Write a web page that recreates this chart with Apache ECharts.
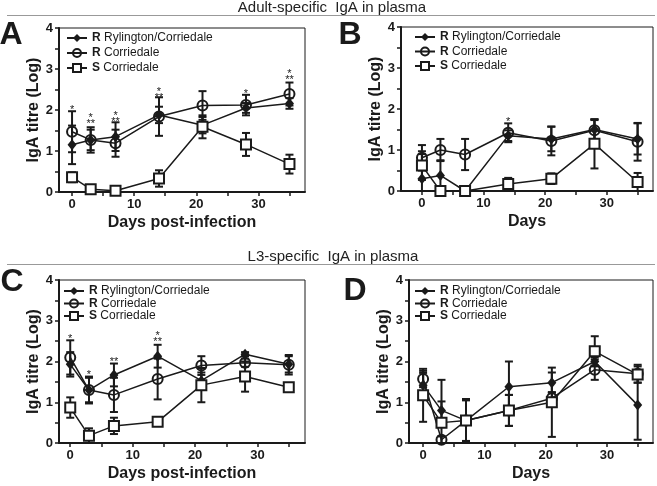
<!DOCTYPE html>
<html><head><meta charset="utf-8">
<script src="https://cdn.jsdelivr.net/npm/echarts@6/dist/echarts.min.js"></script>
<style>html,body{margin:0;padding:0;background:#fff}#c{width:657px;height:486px}</style>
</head><body><div id="c"></div>
<script>
const days = [0, 3, 7, 14, 21, 28, 35];
const seriesNames = ['R Rylington/Corriedale', 'R Corriedale', 'S Corriedale'];
const xTicks = [0, 5, 10, 15, 20, 25, 30, 35];
const xLabels = [0, 10, 20, 30];

// Panel A: Adult-specific, Days post-infection
const A_rr = [1.15, 1.27, 1.35, 1.88, 1.63, 2.05, 2.16];
const A_rr_err = [0.47, 0.25, 0.35, 0.20, 0.20, 0.12, 0.13];
const A_rc = [1.47, 1.27, 1.19, 1.84, 2.11, 2.12, 2.39];
const A_rc_err = [0.50, 0.31, 0.33, 0.47, 0.35, 0.25, 0.28];
const A_sc = [0.36, 0.07, 0.03, 0.33, 1.59, 1.16, 0.68];
const A_sc_err = [0.12, 0.03, 0.02, 0.20, 0.28, 0.28, 0.23];
const A_sig_x = [0, 3, 3, 7, 7, 14, 14, 28, 35, 35];
const A_sig_y = [2.07, 1.86, 1.71, 1.92, 1.78, 2.50, 2.36, 2.46, 2.93, 2.80];
const A_sig_t = ['*', '*', '**', '*', '**', '*', '**', '*', '*', '**'];

// Panel B: Adult-specific, Days
const B_rr = [0.30, 0.38, 0.00, 1.35, 1.27, 1.50, 1.27];
const B_rr_err = [0.60, 0.37, 0.00, 0.13, 0.30, 0.25, 0.38];
const B_rc = [0.81, 1.00, 0.89, 1.42, 1.22, 1.48, 1.20];
const B_rc_err = [0.31, 0.27, 0.38, 0.23, 0.35, 0.25, 0.46];
const B_sc = [0.62, 0.00, 0.00, 0.17, 0.30, 1.15, 0.22];
const B_sc_err = [0.35, 0.00, 0.00, 0.15, 0.13, 0.60, 0.22];
const B_sig_x = [14];
const B_sig_y = [1.74];
const B_sig_t = ['*'];

// Panel C: L3-specific, Days post-infection
const C_rr = [1.93, 1.30, 1.67, 2.13, 1.53, 2.18, 1.93];
const C_rr_err = [0.30, 0.30, 0.28, 0.28, 0.20, 0.05, 0.20];
const C_rc = [2.10, 1.30, 1.18, 1.57, 1.90, 1.97, 1.92];
const C_rc_err = [0.42, 0.33, 0.42, 0.50, 0.23, 0.10, 0.24];
const C_sc = [0.87, 0.18, 0.42, 0.52, 1.42, 1.63, 1.37];
const C_sc_err = [0.25, 0.18, 0.20, 0.08, 0.42, 0.37, 0.07];
const C_sig_x = [0, 3, 7, 14, 14];
const C_sig_y = [2.61, 1.73, 2.04, 2.68, 2.53];
const C_sig_t = ['*', '*', '**', '*', '**'];

// Panel D: L3-specific, Days
const D_rr = [1.42, 0.80, 0.55, 1.38, 1.48, 2.00, 0.93];
const D_rr_err = [0.30, 0.22, 0.50, 0.62, 0.25, 0.10, 0.85];
const D_rc = [1.57, 0.08, 0.55, 0.80, 1.10, 1.80, 1.70];
const D_rc_err = [0.20, 0.08, 0.50, 0.38, 0.15, 0.25, 0.22];
const D_sc = [1.17, 0.50, 0.55, 0.80, 1.00, 2.25, 1.68];
const D_sc_err = [0.65, 1.05, 0.53, 0.38, 0.85, 0.37, 0.20];

const FONT = "'Liberation Sans', Arial, sans-serif";
const INK = '#1a1a1a';

const panels = [
  {letter: 'A', xname: 'Days post-infection', grid: {left: 59, top: 28, width: 246, height: 164}, xmin: -2.1, xmax: 37.5,
   data: [[A_rr, A_rr_err], [A_rc, A_rc_err], [A_sc, A_sc_err]], sig: [A_sig_x, A_sig_y, A_sig_t],
   legend: {left: 66, top: 32, itemGap: 3}, letterPos: [11, 35]},
  {letter: 'B', xname: 'Days', grid: {left: 401, top: 27, width: 252, height: 164}, xmin: -3.4, xmax: 37.5,
   data: [[B_rr, B_rr_err], [B_rc, B_rc_err], [B_sc, B_sc_err]], sig: [B_sig_x, B_sig_y, B_sig_t],
   legend: {left: 414, top: 31, itemGap: 2.5}, letterPos: [350, 35]},
  {letter: 'C', xname: 'Days post-infection', grid: {left: 59, top: 280, width: 246, height: 163}, xmin: -1.8, xmax: 37.6,
   data: [[C_rr, C_rr_err], [C_rc, C_rc_err], [C_sc, C_sc_err]], sig: [C_sig_x, C_sig_y, C_sig_t],
   legend: {left: 63, top: 285, itemGap: 0.5}, letterPos: [12, 282]},
  {letter: 'D', xname: 'Days', grid: {left: 409, top: 280, width: 244, height: 163}, xmin: -2.3, xmax: 37.5,
   data: [[D_rr, D_rr_err], [D_rc, D_rc_err], [D_sc, D_sc_err]], sig: null,
   legend: {left: 414, top: 285, itemGap: 0.5}, letterPos: [355, 291]}
];

const styles = [
  {symbol: 'diamond', symbolSize: [9, 11], itemStyle: {color: INK, borderColor: INK, borderWidth: 0}},
  {symbol: 'circle', symbolSize: 10, itemStyle: {color: 'rgba(0,0,0,0)', borderColor: INK, borderWidth: 2}},
  {symbol: 'rect', symbolSize: 10, itemStyle: {color: '#fff', borderColor: INK, borderWidth: 2}}
];

function errRender(params, api) {
  const x = api.value(0), y = api.value(1), e = api.value(2);
  if (!(e > 0)) return null;
  const lo = Math.max(0, y - e), hi = y + e;
  const pTop = api.coord([x, hi]);
  const pBot = api.coord([x, lo]);
  const cw = 4;
  const children = [
    {type: 'line', shape: {x1: pTop[0], y1: pTop[1], x2: pBot[0], y2: pBot[1]}, style: {stroke: INK, lineWidth: 2}},
    {type: 'line', shape: {x1: pTop[0] - cw, y1: pTop[1], x2: pTop[0] + cw, y2: pTop[1]}, style: {stroke: INK, lineWidth: 2}}
  ];
  if (y - e > 0) children.push({type: 'line', shape: {x1: pBot[0] - cw, y1: pBot[1], x2: pBot[0] + cw, y2: pBot[1]}, style: {stroke: INK, lineWidth: 2}});
  return {type: 'group', children};
}

const sigTexts = {};
function sigRender(params, api) {
  const p = api.coord([api.value(0), api.value(1)]);
  const txt = sigTexts[params.seriesIndex][params.dataIndexInside];
  return {type: 'text', style: {x: p[0], y: p[1] + 2.5, text: txt, fontSize: 11, fontFamily: FONT, fill: INK, align: 'center', verticalAlign: 'middle'}};
}

const grids = [], xAxes = [], yAxes = [], series = [], legends = [], graphics = [];

panels.forEach((p, pi) => {
  grids.push(Object.assign({show: true, borderColor: INK, borderWidth: 1, backgroundColor: 'transparent', containLabel: false}, p.grid));
  xAxes.push({
    type: 'value', gridIndex: pi, min: p.xmin, max: p.xmax,
    name: p.xname, nameLocation: 'middle', nameGap: 23,
    nameTextStyle: {fontFamily: FONT, fontWeight: 'bold', fontSize: 16, color: INK, verticalAlign: 'top'},
    axisLine: {show: true, onZero: false, lineStyle: {color: INK, width: 2}},
    axisTick: {show: true, customValues: xTicks, length: 4, lineStyle: {color: INK, width: 1.5}},
    axisLabel: {customValues: xLabels, fontFamily: FONT, fontWeight: 'bold', fontSize: 13, color: INK, margin: 6},
    splitLine: {show: false}
  });
  yAxes.push({
    type: 'value', gridIndex: pi, min: 0, max: 4, interval: 0.5,
    name: 'IgA titre (Log)', nameLocation: 'middle', nameGap: 17,
    nameTextStyle: {fontFamily: FONT, fontWeight: 'bold', fontSize: 16, color: INK},
    axisLine: {show: true, onZero: false, lineStyle: {color: INK, width: 2}},
    axisTick: {show: true, length: 4, lineStyle: {color: INK, width: 1.5}},
    axisLabel: {fontFamily: FONT, fontWeight: 'bold', fontSize: 13, color: INK, margin: 6,
      formatter: v => (Math.abs(v - Math.round(v)) < 1e-9 ? String(Math.round(v)) : '')},
    splitLine: {show: false}
  });
  p.data.forEach((d, si) => {
    const [vals, errs] = d;
    series.push({
      type: 'custom', name: 'err' + pi + si, xAxisIndex: pi, yAxisIndex: pi, z: 2, silent: true,
      renderItem: errRender, encode: {x: 0, y: 1},
      data: days.map((dd, k) => [dd, vals[k], errs[k]])
    });
  });
  p.data.forEach((d, si) => {
    const [vals] = d;
    series.push(Object.assign({
      type: 'line', name: seriesNames[si], xAxisIndex: pi, yAxisIndex: pi, z: 3 + si, animation: false,
      lineStyle: {color: INK, width: 1.5}, showAllSymbol: true,
      data: days.map((dd, k) => [dd, vals[k]])
    }, styles[si]));
  });
  if (p.sig) {
    const si = series.length;
    sigTexts[si] = p.sig[2];
    series.push({
      type: 'custom', name: 'sig' + pi, xAxisIndex: pi, yAxisIndex: pi, z: 6, silent: true,
      renderItem: sigRender, encode: {x: 0, y: 1},
      data: p.sig[0].map((x, k) => [x, p.sig[1][k]])
    });
  }
  legends.push({
    data: seriesNames, orient: 'vertical', left: p.legend.left, top: p.legend.top, itemGap: p.legend.itemGap,
    itemWidth: 20, itemHeight: 10, padding: 0, selectedMode: false,
    formatter: n => '{b|' + n.charAt(0) + '} ' + n.slice(2),
    textStyle: {fontFamily: FONT, fontSize: 12, color: INK, rich: {b: {fontFamily: FONT, fontSize: 12, fontWeight: 'bold', color: INK}}}
  });
  graphics.push({type: 'text', x: p.letterPos[0], y: p.letterPos[1],
    style: {text: p.letter, fontFamily: FONT, fontWeight: 'bold', fontSize: 32, fill: INK, align: 'center', verticalAlign: 'middle'}});
});

graphics.push(
  {type: 'text', x: 332, y: 8, style: {text: 'Adult-specific  IgA in plasma', fontFamily: FONT, fontSize: 15, fill: '#222', align: 'center', verticalAlign: 'middle'}},
  {type: 'line', shape: {x1: 7, y1: 15.5, x2: 655, y2: 15.5}, style: {stroke: '#999', lineWidth: 1}},
  {type: 'text', x: 333, y: 257, style: {text: 'L3-specific  IgA in plasma', fontFamily: FONT, fontSize: 15, fill: '#222', align: 'center', verticalAlign: 'middle'}},
  {type: 'line', shape: {x1: 7, y1: 264.5, x2: 655, y2: 264.5}, style: {stroke: '#999', lineWidth: 1}}
);

const chart = echarts.init(document.getElementById('c'), null, {renderer: 'canvas'});
chart.setOption({
  animation: false,
  backgroundColor: '#fff',
  grid: grids, xAxis: xAxes, yAxis: yAxes, series, legend: legends, graphic: graphics
});
</script>
</body></html>
